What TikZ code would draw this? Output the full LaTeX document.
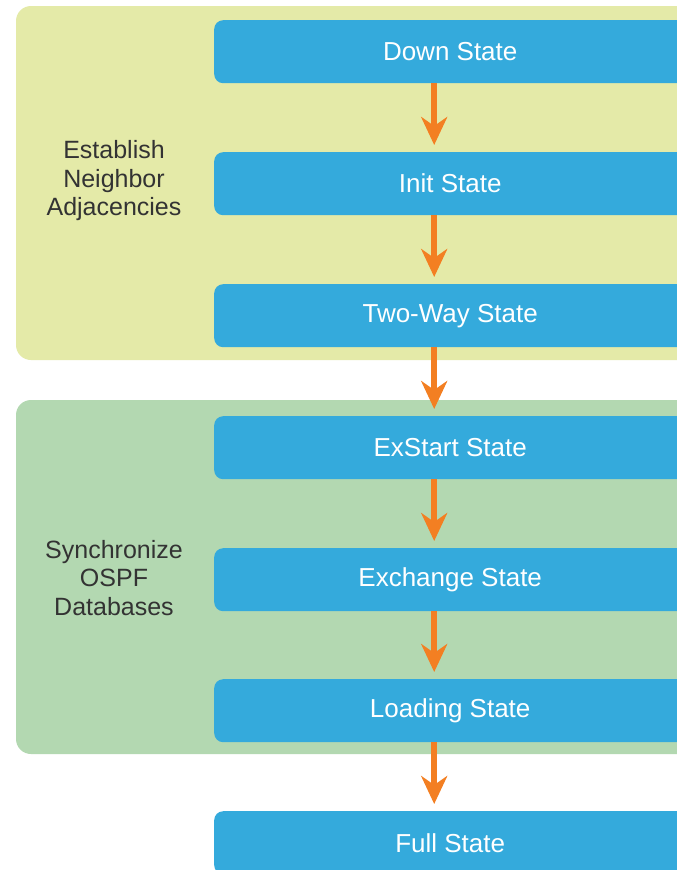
\documentclass[tikz,border=0pt]{standalone}
\usepackage{fontspec}
\setmainfont{Liberation Sans}
\usetikzlibrary{arrows.meta,positioning}
\definecolor{panelY}{HTML}{E4EAA8}
\definecolor{panelG}{HTML}{B3D8B1}
\definecolor{boxblue}{HTML}{34AADC}
\definecolor{arrorange}{HTML}{F37F22}
\definecolor{labelgray}{HTML}{333333}
\tikzset{
  panel/.style={rounded corners=15pt, draw=none},
  statebox/.style={fill=boxblue, rounded corners=9pt, anchor=north west,
    minimum width=472pt, minimum height=63pt, inner sep=0pt,
    text=white, font=\fontsize{26}{30}\selectfont},
  grouplabel/.style={align=center, text=labelgray, font=\fontsize{25}{28.5}\selectfont},
  flow/.style={draw=arrorange, line width=6pt,
    -{Stealth[length=28pt,width=26pt,inset=9pt]}, shorten >=7pt}
}
\begin{document}
\begin{tikzpicture}[x=1pt,y=-1pt]
\useasboundingbox (0,0) rectangle (677,870);
\clip (0,0) rectangle (677,870);
\fill[white] (0,0) rectangle (677,870);
% panels
\fill[panel, panelY] (16,6) rectangle (720,360);
\fill[panel, panelG] (16,400) rectangle (720,754);
% state boxes
\node[statebox] (down)  at (214,20)  {Down State};
\node[statebox] (init)  at (214,152) {Init State};
\node[statebox] (two)   at (214,284) {Two-Way State};
\node[statebox] (exst)  at (214,416) {ExStart State};
\node[statebox] (exch)  at (214,548) {Exchange State};
\node[statebox] (load)  at (214,679) {Loading State};
\node[statebox] (full)  at (214,811) {Full State};
% group labels
\node[grouplabel] (lab1) at (114,181) {Establish\\Neighbor\\Adjacencies};
\node[grouplabel] (lab2) at (114,578) {Synchronize\\OSPF\\Databases};
% arrows
\draw[flow] ([xshift=-16pt]down.south) -- ([xshift=-16pt]init.north);
\draw[flow] ([xshift=-16pt]init.south) -- ([xshift=-16pt]two.north);
\draw[flow] ([xshift=-16pt]two.south)  -- ([xshift=-16pt]exst.north);
\draw[flow] ([xshift=-16pt]exst.south) -- ([xshift=-16pt]exch.north);
\draw[flow] ([xshift=-16pt]exch.south) -- ([xshift=-16pt]load.north);
\draw[flow] ([xshift=-16pt]load.south) -- ([xshift=-16pt]full.north);
\end{tikzpicture}
\end{document}
